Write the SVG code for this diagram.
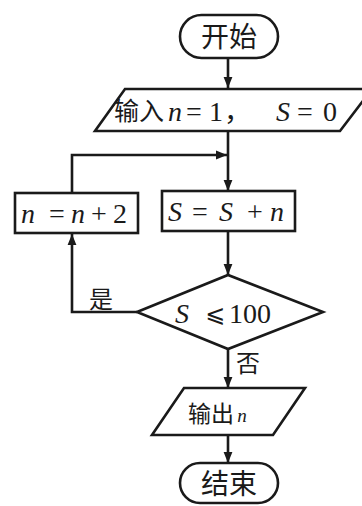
<svg xmlns="http://www.w3.org/2000/svg" width="362" height="506" viewBox="0 0 362 506">
<defs>
<style>
.s{fill:#fff;stroke:#1a1a1a;stroke-width:2.6}
.c{fill:none;stroke:#1a1a1a;stroke-width:2.6}
.cn{font-family:"Noto Sans CJK SC","Noto Sans",sans-serif;fill:#1a1a1a}
.m{font-family:"Liberation Serif","Times New Roman",serif;font-style:italic;fill:#1a1a1a}
.r{font-family:"Liberation Serif","Times New Roman",serif;fill:#1a1a1a}
</style>
<marker id="ah" viewBox="0 0 10 10" refX="10" refY="5" markerWidth="11" markerHeight="11" markerUnits="userSpaceOnUse" orient="auto">
<path d="M0,1 L10,5 L0,9 Z" fill="#1a1a1a"/>
</marker>
</defs>
<rect width="362" height="506" fill="#fff"/>
<g id="connectors">
<line class="c" x1="228" y1="58" x2="228" y2="88" marker-end="url(#ah)"/>
<line class="c" x1="228" y1="131" x2="228" y2="191" marker-end="url(#ah)"/>
<polyline class="c" points="72,193 72,155 227,155" marker-end="url(#ah)"/>
<line class="c" x1="228" y1="231" x2="228" y2="275" marker-end="url(#ah)"/>
<polyline class="c" points="137,312 72,312 72,234" marker-end="url(#ah)"/>
<line class="c" x1="228" y1="349" x2="228" y2="388" marker-end="url(#ah)"/>
<line class="c" x1="228" y1="435" x2="228" y2="463" marker-end="url(#ah)"/>
<text class="cn" x="89" y="308" font-size="24">是</text>
<text class="cn" x="236" y="372" font-size="24">否</text>
</g>
<g id="start">
<rect class="s" x="180" y="15" width="98" height="43" rx="21.5"/>
<text class="cn" x="229" y="47" font-size="28" text-anchor="middle">开始</text>
</g>
<g id="input">
<polygon class="s" points="125,89 372,89 340,131 95,131"/>
<text class="cn" x="114" y="120" font-size="25">输入</text>
<text class="m" x="175" y="121" font-size="28" text-anchor="middle">n</text>
<text class="r" x="194" y="121" font-size="28" text-anchor="middle">=</text>
<text class="r" x="216" y="121" font-size="28" text-anchor="middle">1</text>
<text class="cn" x="224" y="121" font-size="27">，</text>
<text class="m" x="283" y="121" font-size="28" text-anchor="middle">S</text>
<text class="r" x="305" y="121" font-size="28" text-anchor="middle">=</text>
<text class="r" x="330" y="121" font-size="28" text-anchor="middle">0</text>
</g>
<g id="update-n">
<rect class="s" x="15" y="193" width="123" height="40"/>
<text class="m" x="28" y="223" font-size="28" text-anchor="middle">n</text>
<text class="r" x="57" y="223" font-size="28" text-anchor="middle">=</text>
<text class="m" x="78" y="223" font-size="28" text-anchor="middle">n</text>
<text class="r" x="99" y="223" font-size="28" text-anchor="middle">+</text>
<text class="r" x="120" y="223" font-size="28" text-anchor="middle">2</text>
</g>
<g id="update-s">
<rect class="s" x="162" y="191" width="133" height="40"/>
<text class="m" x="175" y="221" font-size="28" text-anchor="middle">S</text>
<text class="r" x="200" y="221" font-size="28" text-anchor="middle">=</text>
<text class="m" x="226" y="221" font-size="28" text-anchor="middle">S</text>
<text class="r" x="255" y="221" font-size="28" text-anchor="middle">+</text>
<text class="m" x="277" y="221" font-size="28" text-anchor="middle">n</text>
</g>
<g id="decision">
<polygon class="s" points="137,312 228,275 323,312 228,349"/>
<text class="m" x="182" y="323" font-size="28" text-anchor="middle">S</text>
<text font-family="DejaVu Sans,sans-serif" fill="#1a1a1a" x="215" y="322" font-size="24" text-anchor="middle">⩽</text>
<text class="r" x="250" y="323" font-size="28" text-anchor="middle">100</text>
</g>
<g id="output">
<polygon class="s" points="184,388 305,388 273,435 152,435"/>
<text class="cn" x="188" y="422" font-size="23">输出</text>
<text class="m" x="242" y="422" font-size="19" text-anchor="middle">n</text>
</g>
<g id="end">
<rect class="s" x="180" y="463" width="98" height="40" rx="20"/>
<text class="cn" x="229" y="494" font-size="28" text-anchor="middle">结束</text>
</g>
</svg>
